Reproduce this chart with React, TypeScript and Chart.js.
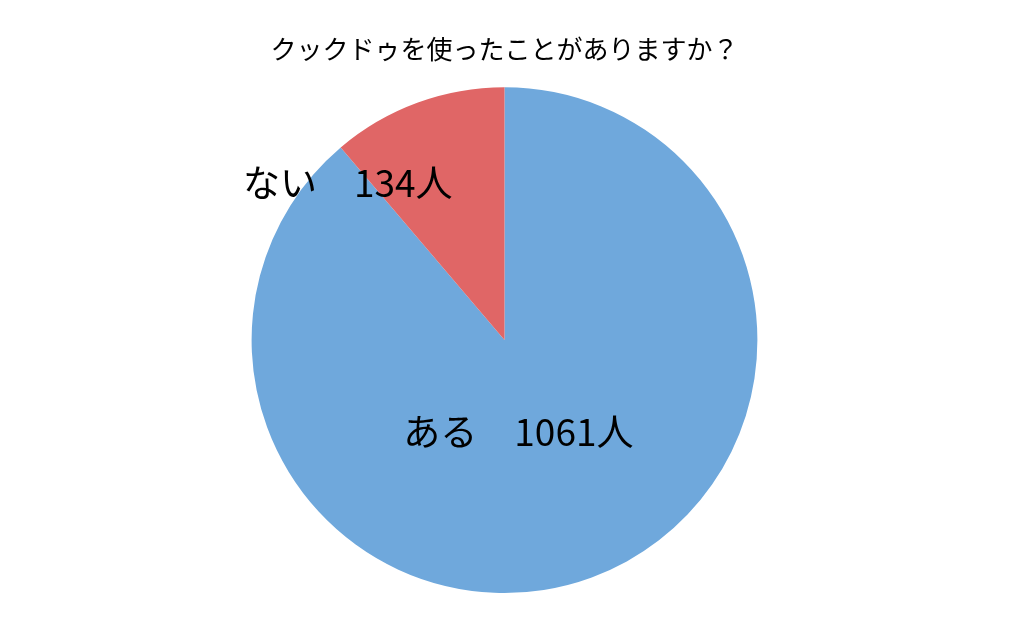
import { useEffect, useRef } from 'react'
import { Chart, registerables } from 'chart.js'
import type { Plugin } from 'chart.js'

Chart.register(...registerables)

const TITLE = 'クックドゥを使ったことがありますか？'
const categories = ['ある', 'ない']
const counts = [1061, 134]
const colors = ['#6fa8dc', '#e06666']
// label anchor, as fraction of the pie radius from its centre
const labelOffsets: [number, number][] = [
  [0.055, 0.364],
  [-0.62, -0.62],
]

const FONT = '"Noto Sans CJK JP", "Noto Sans", sans-serif'

const sliceLabels: Plugin<'pie'> = {
  id: 'sliceLabels',
  afterDatasetsDraw(chart) {
    const { ctx } = chart
    const meta = chart.getDatasetMeta(0)
    ctx.save()
    ctx.font = `37px ${FONT}`
    ctx.fillStyle = '#000'
    ctx.textAlign = 'center'
    ctx.textBaseline = 'middle'
    meta.data.forEach((el, i) => {
      const arc = el as any
      const r = arc.outerRadius
      const [fx, fy] = labelOffsets[i]
      ctx.fillText(`${categories[i]}　${counts[i]}人`, arc.x + fx * r, arc.y + fy * r)
    })
    ctx.restore()
  },
}

export default function App() {
  const canvasRef = useRef<HTMLCanvasElement>(null)
  const chartRef = useRef<Chart | null>(null)

  useEffect(() => {
    if (!canvasRef.current) return
    chartRef.current?.destroy()
    chartRef.current = new Chart(canvasRef.current, {
      type: 'pie',
      data: {
        labels: categories,
        datasets: [
          {
            data: counts,
            backgroundColor: colors,
            borderWidth: 0,
          },
        ],
      },
      options: {
        animation: false,
        responsive: false,
        layout: { padding: { bottom: 31 } },
        plugins: {
          legend: { display: false },
          tooltip: { enabled: false },
          title: {
            display: true,
            text: TITLE,
            color: '#000',
            font: { family: FONT, size: 26, weight: 'normal' },
            padding: { top: 34, bottom: 22 },
          },
        },
      },
      plugins: [sliceLabels],
    })
    return () => {
      chartRef.current?.destroy()
      chartRef.current = null
    }
  }, [])

  return (
    <div style={{ position: 'fixed', left: 0, top: 0, width: 1009, height: 624, background: '#fff' }}>
      <canvas ref={canvasRef} width={1009} height={624} />
    </div>
  )
}
